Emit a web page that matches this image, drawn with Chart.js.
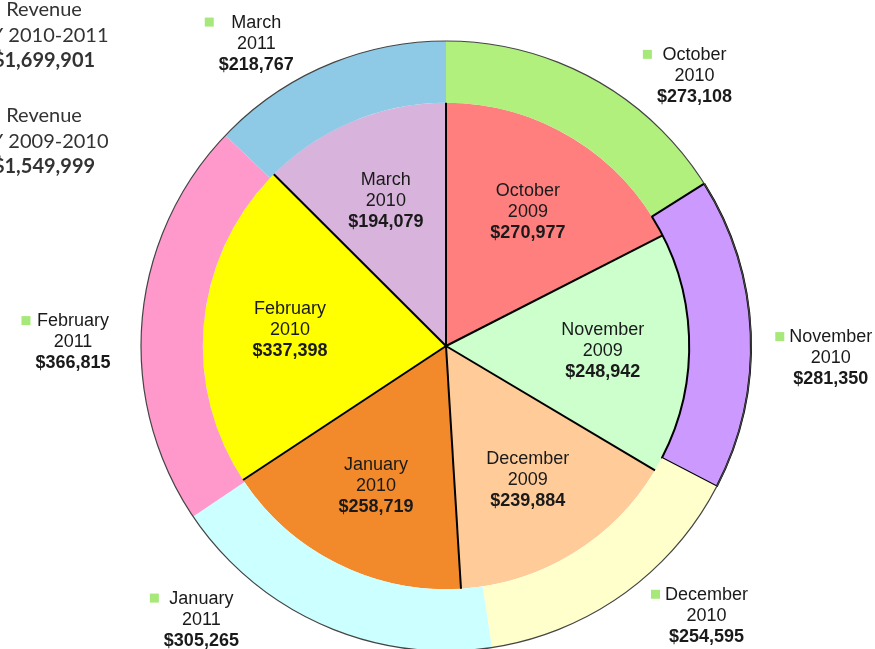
<!DOCTYPE html>
<html>
<head>
<meta charset="utf-8">
<script src="https://cdn.jsdelivr.net/npm/chart.js@4.4.0/dist/chart.umd.min.js"></script>
<style>
  html, body { margin: 0; padding: 0; background: #fff; overflow: hidden; }
  #wrap { width: 875px; height: 660px; position: relative; }
</style>
</head>
<body>
<div id="wrap"><canvas id="pieChart"></canvas></div>
<script>
// data
const months = ['October', 'November', 'December', 'January', 'February', 'March'];
const years2011 = ['2010', '2010', '2010', '2011', '2011', '2011'];
const years2010 = ['2009', '2009', '2009', '2010', '2010', '2010'];
const revenue2011 = [273108, 281350, 254595, 305265, 366815, 218767];
const revenue2010 = [270977, 248942, 239884, 258719, 337398, 194079];
const totalLabels = [
    ['Revenue', 'FY 2010-2011', '$1,699,901'],
    ['Revenue', 'FY 2009-2010', '$1,549,999']
];

const outerColors = ['#b1f07c', '#cc99ff', '#ffffcc', '#ccffff', '#ff99cc', '#8ecae6'];
const innerColors = ['#ff7f7f', '#ccffcc', '#ffcc99', '#f28a2b', '#ffff00', '#d8b4dc'];

// where the outer labels sit: angle (deg, clockwise from top) and gap past the ring
const outerLabelSpots = [[42.6, 62], [91.8, 80], [136, 70], [221.8, 62], [270.6, 68], [327.9, 52]];

function money(v) {
    return '$' + v.toLocaleString('en-US');
}

const labelPlugin = {
    id: 'labelPlugin',
    afterDatasetsDraw(chart) {
        const ctx = chart.ctx;
        const outerMeta = chart.getDatasetMeta(0);
        const innerMeta = chart.getDatasetMeta(1);
        const first = innerMeta.data[0];
        const cx = first.x, cy = first.y;
        const innerR = first.outerRadius;
        const outerR = outerMeta.data[0].outerRadius;

        ctx.save();
        // thin outline round the whole thing
        ctx.beginPath();
        ctx.arc(cx, cy, outerR, 0, Math.PI * 2);
        ctx.strokeStyle = '#444';
        ctx.lineWidth = 1.2;
        ctx.stroke();

        // black spokes between the inner slices
        ctx.strokeStyle = '#000';
        ctx.lineWidth = 2;
        innerMeta.data.forEach(arc => {
            ctx.beginPath();
            ctx.moveTo(cx, cy);
            ctx.lineTo(cx + Math.cos(arc.startAngle) * innerR, cy + Math.sin(arc.startAngle) * innerR);
            ctx.stroke();
        });

        ctx.textAlign = 'center';
        ctx.textBaseline = 'middle';
        ctx.fillStyle = '#1a1a1a';
        const lineH = 21;

        // labels inside the inner pie
        innerMeta.data.forEach((arc, i) => {
            const mid = (arc.startAngle + arc.endAngle) / 2;
            const r = innerR * 0.645;
            const x = cx + Math.cos(mid) * r;
            const y = cy + Math.sin(mid) * r;
            ctx.font = '18px "Liberation Sans", Arial, sans-serif';
            ctx.fillText(months[i], x, y - lineH);
            ctx.fillText(years2010[i], x, y);
            ctx.font = 'bold 18px "Liberation Sans", Arial, sans-serif';
            ctx.fillText(money(revenue2010[i]), x, y + lineH);
        });

        // labels outside the outer ring, with the little green key square
        outerMeta.data.forEach((arc, i) => {
            const a = (outerLabelSpots[i][0] - 90) * Math.PI / 180;
            const r = outerR + outerLabelSpots[i][1];
            const x = cx + Math.cos(a) * r;
            const y = cy + Math.sin(a) * r;
            ctx.font = '18px "Liberation Sans", Arial, sans-serif';
            const w1 = ctx.measureText(months[i]).width;
            ctx.fillText(months[i], x, y - lineH);
            ctx.fillText(years2011[i], x, y);
            ctx.font = 'bold 18px "Liberation Sans", Arial, sans-serif';
            const w3 = ctx.measureText(money(revenue2011[i])).width;
            ctx.fillText(money(revenue2011[i]), x, y + lineH);
            const left = x - Math.max(w1, w3) / 2;
            ctx.fillStyle = '#a6e87a';
            ctx.fillRect(left - 14, y - lineH - 5, 9, 9);
            ctx.fillStyle = '#1a1a1a';
        });

        // totals in the top left corner
        ctx.fillStyle = '#333';
        const blockY = [10, 116];
        totalLabels.forEach((lines, b) => {
            lines.forEach((t, j) => {
                ctx.font = (j === 2 ? 'bold ' : '') + '20px Lato, "Open Sans", sans-serif';
                ctx.fillText(t, 44, blockY[b] + j * 25.5);
            });
        });
        ctx.restore();
    }
};

function setupPieChart() {
    const ctx = document.getElementById('pieChart').getContext('2d');
    return new Chart(ctx, {
        type: 'doughnut',
        data: {
            labels: months,
            datasets: [{
                label: 'FY 2010-2011',
                data: revenue2011,
                backgroundColor: outerColors,
                borderColor: ['#b1f07c', '#000', '#ffffcc', '#ccffff', '#ff99cc', '#8ecae6'],
                borderWidth: [0, 2, 0, 0, 0, 0],
                weight: 62
            },
            {
                label: 'FY 2009-2010',
                data: revenue2010,
                backgroundColor: innerColors,
                borderWidth: 0,
                weight: 244
            }]
        },
        options: {
            responsive: true,
            maintainAspectRatio: false,
            animation: false,
            cutout: 0,
            layout: {
                padding: { left: 140, right: 123, top: 40, bottom: 8 }
            },
            plugins: {
                legend: { display: false },
                tooltip: { enabled: false }
            }
        },
        plugins: [labelPlugin]
    });
}

setupPieChart();
</script>
</body>
</html>
